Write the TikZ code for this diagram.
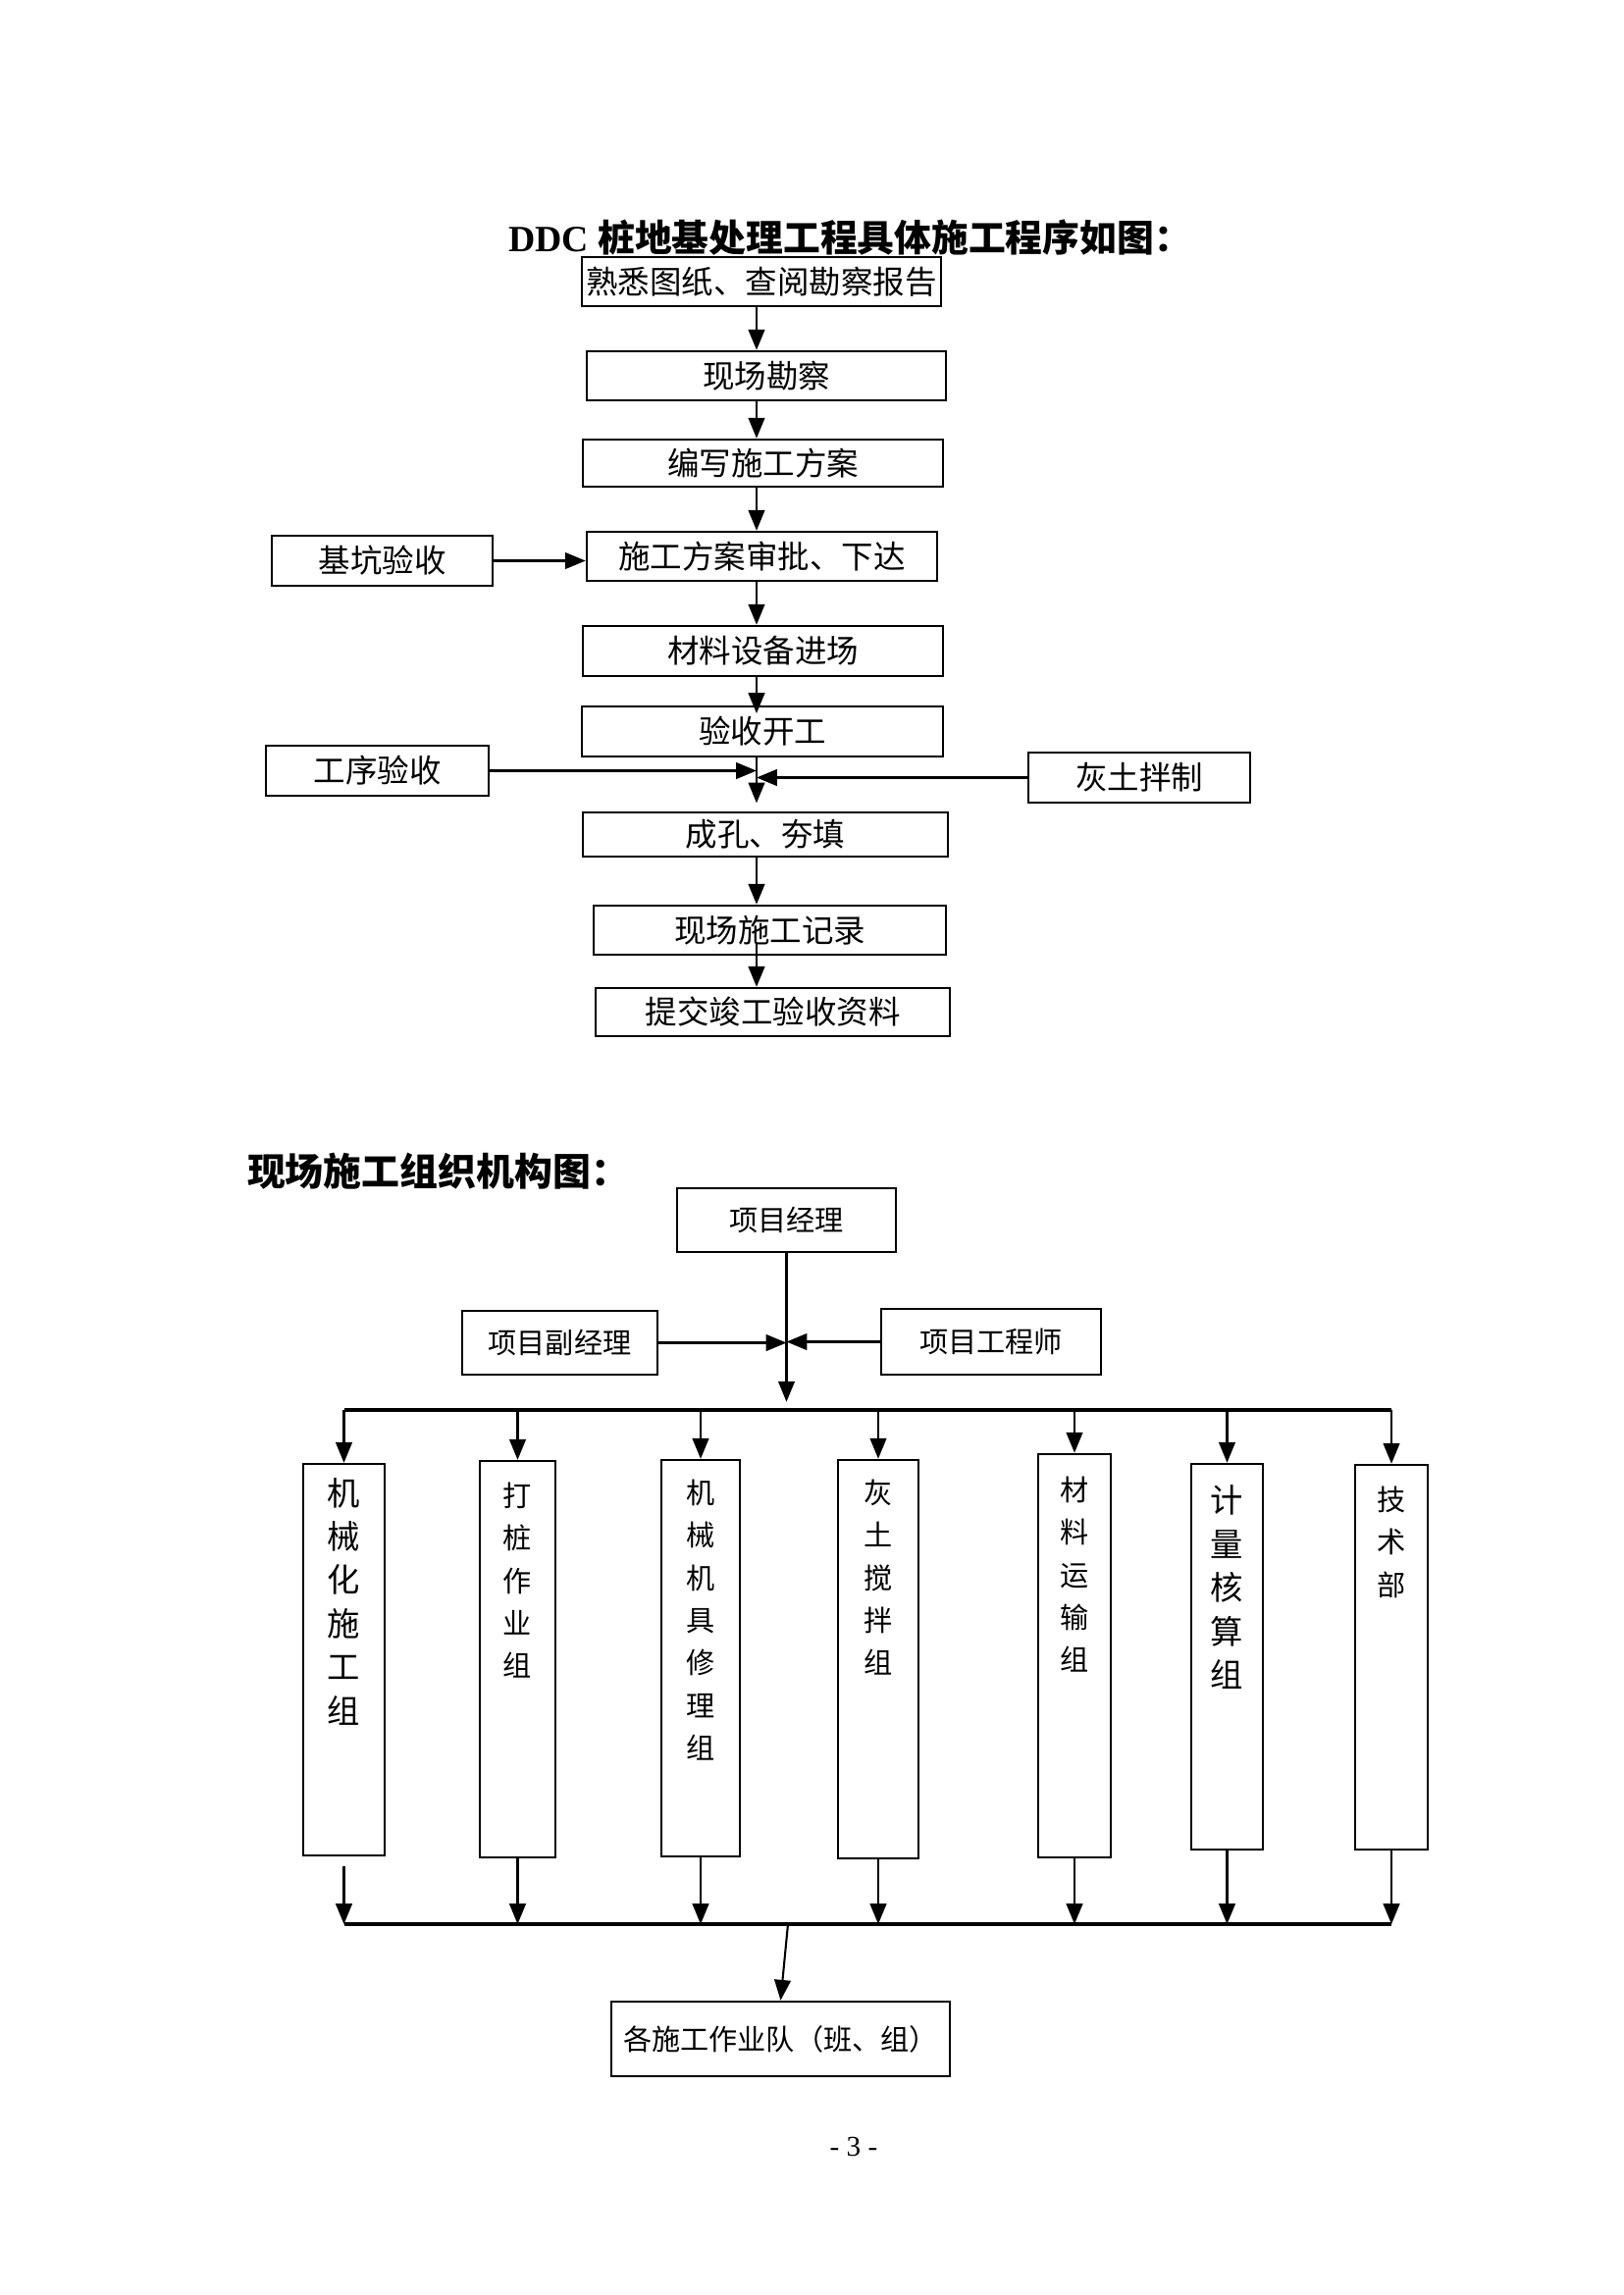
\documentclass[tikz,border=0pt]{standalone}
\usepackage{fontspec}
\setmainfont{Liberation Serif}
\newfontfamily\cjk{Noto Sans CJK SC}
\usetikzlibrary{arrows.meta,calc}

\tikzset{every picture/.style={line width=0.75pt}}
\tikzset{
  box/.style={draw, line width=0.9pt, inner sep=0pt, font=\cjk\fontsize{11.7}{14}\selectfont},
  obox/.style={box, font=\cjk\fontsize{10.5}{13}\selectfont},
  vbox/.style={draw, line width=0.9pt, inner sep=0pt},
  vtext/.style={anchor=north, inner sep=0pt, align=center, font=\cjk\fontsize{10.5}{15.6}\selectfont},
  vtextl/.style={vtext, font=\cjk\fontsize{12}{16}\selectfont},
  arr/.style={-{Triangle[length=7.5pt,width=6pt]}, line width=0.75pt},
  bus/.style={line width=1.2pt}
}

\begin{document}
\begin{tikzpicture}[x=0.36pt,y=0.36pt,yscale=-1,xscale=1]
		\useasboundingbox (0,0) rectangle (1654,2339);

		% Text Node
		\draw (866,242) node [inner sep=0.75pt] (title1) {\fontsize{13.6}{16}\selectfont\bfseries DDC {\cjk 桩地基处理工程具体施工程序如图：}};

		%Shape: Rectangle
		\draw (776,287) node [box, minimum width=131.8pt, minimum height=18pt] (f1) {熟悉图纸、查阅勘察报告};
		\draw (781,383) node [box, minimum width=131.8pt, minimum height=18pt] (f2) {现场勘察};
		\draw (777.5,472) node [box, minimum width=132.1pt, minimum height=17.3pt] (f3) {编写施工方案};
		\draw (776.5,567) node [box, minimum width=128.5pt, minimum height=18pt] (f4) {施工方案审批、下达};
		\draw (777.5,663.5) node [box, minimum width=132.1pt, minimum height=18.4pt] (f5) {材料设备进场};
		\draw (777,745.5) node [box, minimum width=132.5pt, minimum height=18.4pt] (f6) {验收开工};
		\draw (780,850.5) node [box, minimum width=133.9pt, minimum height=16.2pt] (f7) {成孔、夯填};
		\draw (784.5,948) node [box, minimum width=129.2pt, minimum height=18pt] (f8) {现场施工记录};
		\draw (787.5,1031.5) node [box, minimum width=130pt, minimum height=17.6pt] (f9) {提交竣工验收资料};
		\draw (389.5,571.5) node [box, minimum width=81pt, minimum height=18.4pt] (jk) {基坑验收};
		\draw (384.5,785.5) node [box, minimum width=81.7pt, minimum height=18.4pt] (gx) {工序验收};
		\draw (1161,792.5) node [box, minimum width=81.4pt, minimum height=18.4pt] (ht) {灰土拌制};

		\coordinate (ax) at (771,0);
		%Straight Lines
		\draw [arr] (f1.south -| ax) -- (f2.north -| ax);
		\draw [arr] (f2.south -| ax) -- (f3.north -| ax);
		\draw [arr] (f3.south -| ax) -- (f4.north -| ax);
		\draw [arr] (f4.south -| ax) -- (f5.north -| ax);
		\draw [arr, shorten >=-3pt] (f5.south -| ax) -- (f6.north -| ax);
		\draw [arr, shorten >=3pt] (f6.south -| ax) -- (f7.north -| ax);
		\draw [arr] (f7.south -| ax) -- (f8.north -| ax);
		\draw [arr, shorten <=-4.5pt] (f8.south -| ax) -- (f9.north -| ax);
		\draw [arr] (jk.east) -- (jk.east -| f4.west);
		\draw [arr] (gx.east) -- (gx.east -| ax);
		\draw [arr] (ht.west) -- (ht.west -| ax);

		% Text Node
		\draw (446.5,1194) node [inner sep=0.75pt] (title2) {\cjk\fontsize{14}{16}\selectfont\bfseries 现场施工组织机构图：};

		%Shape: Rectangle
		\draw (801.5,1243.5) node [obox, minimum width=80.3pt, minimum height=23.4pt] (pm) {项目经理};
		\draw (570.5,1368.5) node [obox, minimum width=71.6pt, minimum height=23.4pt] (pm2) {项目副经理};
		\draw (1010,1367.5) node [obox, minimum width=80.6pt, minimum height=24.1pt] (pe) {项目工程师};

		\draw (350.5,1691.5) node [vbox, minimum width=29.9pt, minimum height=143.6pt] (b1) {};
		\draw (527.5,1691) node [vbox, minimum width=27.7pt, minimum height=145.4pt] (b2) {};
		\draw (714,1690) node [vbox, minimum width=28.8pt, minimum height=145.4pt] (b3) {};
		\draw (895,1691) node [vbox, minimum width=29.5pt, minimum height=146.2pt] (b4) {};
		\draw (1095,1687.5) node [vbox, minimum width=26.6pt, minimum height=148pt] (b5) {};
		\draw (1250.5,1688.5) node [vbox, minimum width=26.3pt, minimum height=141.5pt] (b6) {};
		\draw (1418,1689) node [vbox, minimum width=26.6pt, minimum height=141.1pt] (b7) {};

		% Text Node
		\draw (350.5,1505) node [vtextl] (t1) {机\\械\\化\\施\\工\\组};
		\draw (527.5,1510) node [vtext] (t2) {打\\桩\\作\\业\\组};
		\draw (714,1507) node [vtext] (t3) {机\\械\\机\\具\\修\\理\\组};
		\draw (895,1507) node [vtext] (t4) {灰\\土\\搅\\拌\\组};
		\draw (1095,1504) node [vtext] (t5) {材\\料\\运\\输\\组};
		\draw (1250.5,1513) node [vtextl] (t6) {计\\量\\核\\算\\组};
		\draw (1418,1514) node [vtext] (t7) {技\\术\\部};

		%Shape: Rectangle
		\draw (795.5,2078) node [obox, minimum width=124.2pt, minimum height=27.4pt] (team) {各施工作业队（班、组）};

		\coordinate (bt) at (0,1437);
		\coordinate (bb) at (0,1961);
		\coordinate (bm) at (803,1961);
		%Straight Lines
		\draw [bus] (b1.north |- bt) -- (b7.north |- bt);
		\draw [bus] (b1.south |- bb) -- (b7.south |- bb);
		\draw [arr, shorten >=3pt] (pm.south) -- (pm.south |- bt);
		\draw [arr] (pm2.east) -- (pm2.east -| pm.south);
		\draw [arr] (pe.west) -- (pe.west -| pm.south);
		\foreach \b in {b1,b2,b3,b4,b5,b6,b7}
			\draw [arr] (\b.north |- bt) -- (\b.north);
		\draw [arr, shorten <=3.5pt] (b1.south) -- (b1.south |- bb);
		\foreach \b in {b2,b3,b4,b5,b6,b7}
			\draw [arr] (\b.south) -- (\b.south |- bb);
		\draw [arr] (bm) -- (team.north);

		% Text Node
		\draw (870,2188) node [inner sep=0.75pt] (pg) {\fontsize{10.5}{12}\selectfont - 3 -};

\end{tikzpicture}
\end{document}
